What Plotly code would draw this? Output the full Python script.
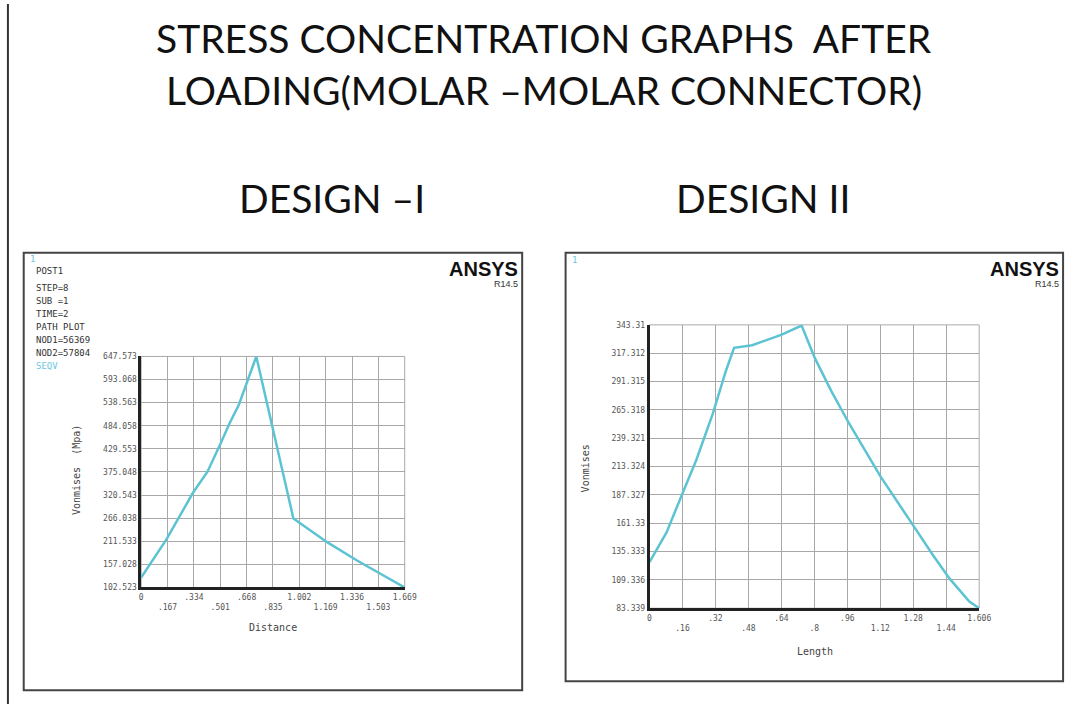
import plotly.graph_objects as go

W, H = 1081, 709

# ---------------- data ----------------
d1_x = [0.0, 0.16, 0.327, 0.42, 0.5, 0.56, 0.62, 0.729, 0.964, 1.18, 1.367, 1.669]
d1_y = [125.8, 216.0, 325.4, 375.8, 440.0, 490.0, 535.0, 647.5, 265.5, 208.9, 166.2, 102.523]
d1_xticks = [0.0, 0.1669, 0.3338, 0.5007, 0.6676, 0.8345, 1.0014, 1.1683, 1.3352, 1.5021, 1.669]
d1_xlabels = ["0", ".167", ".334", ".501", ".668", ".835", "1.002", "1.169", "1.336", "1.503", "1.669"]
d1_yticks = [102.523, 157.028, 211.533, 266.038, 320.543, 375.048, 429.553, 484.058, 538.563, 593.068, 647.573]
d1_ylabels = ["102.523", "157.028", "211.533", "266.038", "320.543", "375.048", "429.553", "484.058", "538.563", "593.068", "647.573"]

d2_x = [0.0, 0.083, 0.155, 0.228, 0.308, 0.372, 0.412, 0.5, 0.644, 0.741, 0.805, 0.885, 0.973, 1.125, 1.286, 1.382, 1.462, 1.558, 1.606]
d2_y = [125.7, 152.9, 186.1, 219.4, 261.7, 301.0, 322.2, 324.6, 334.3, 342.7, 313.0, 282.8, 252.6, 204.3, 158.9, 131.7, 110.5, 89.4, 83.339]
d2_xticks = [0.0, 0.1606, 0.3212, 0.4818, 0.6424, 0.803, 0.9636, 1.1242, 1.2848, 1.4454, 1.606]
d2_xlabels = ["0", ".16", ".32", ".48", ".64", ".8", ".96", "1.12", "1.28", "1.44", "1.606"]
d2_yticks = [83.339, 109.336, 135.333, 161.33, 187.327, 213.324, 239.321, 265.318, 291.315, 317.312, 343.31]
d2_ylabels = ["83.339", "109.336", "135.333", "161.33", "187.327", "213.324", "239.321", "265.318", "291.315", "317.312", "343.31"]

info_lines = ["POST1", "", "STEP=8", "SUB =1", "TIME=2", "PATH PLOT", "NOD1=56369", "NOD2=57804"]

LINE = "#5cc3d3"
CYAN = "#6cc6e0"
TICKFONT = dict(family="DejaVu Sans Mono", size=8, color="#555555")


def px(x):
    return x / W


def py(y):
    return 1 - y / H


def two_row(labels):
    return [lab if i % 2 == 0 else "<br>" + lab for i, lab in enumerate(labels)]


fig = go.Figure()
fig.add_trace(go.Scatter(x=d1_x, y=d1_y, mode="lines", line=dict(color=LINE, width=2.5),
                         xaxis="x", yaxis="y", showlegend=False, hoverinfo="skip"))
fig.add_trace(go.Scatter(x=d2_x, y=d2_y, mode="lines", line=dict(color=LINE, width=2.5),
                         xaxis="x2", yaxis="y2", showlegend=False, hoverinfo="skip"))

axis_common = dict(showgrid=True, gridcolor="#a8a8a8", gridwidth=1, zeroline=False,
                   showline=True, linecolor="#222222", linewidth=2.5, ticks="",
                   tickfont=TICKFONT, fixedrange=True)

fig.update_layout(
    width=W, height=H, margin=dict(l=0, r=0, t=0, b=0),
    paper_bgcolor="white", plot_bgcolor="white",
    xaxis=dict(domain=[px(141), px(408)], range=[0, 1.669], anchor="y",
               tickmode="array", tickvals=d1_xticks, ticktext=two_row(d1_xlabels), **axis_common),
    yaxis=dict(domain=[py(591), py(357)], range=[102.523, 647.573], anchor="x",
               tickmode="array", tickvals=d1_yticks, ticktext=d1_ylabels, **axis_common),
    xaxis2=dict(domain=[px(656), px(990)], range=[0, 1.606], anchor="y2",
                tickmode="array", tickvals=d2_xticks, ticktext=two_row(d2_xlabels), **axis_common),
    yaxis2=dict(domain=[py(612), py(325)], range=[83.339, 343.31], anchor="x2",
                tickmode="array", tickvals=d2_yticks, ticktext=d2_ylabels, **axis_common),
)

shapes = []
# outer slide border (left)
shapes.append(dict(type="line", xref="paper", yref="paper", x0=px(6), x1=px(6), y0=0, y1=1,
                   line=dict(color="#333333", width=2)))
# panel frames
shapes.append(dict(type="rect", xref="paper", yref="paper", x0=px(22), x1=px(527), y0=py(695), y1=py(252),
                   line=dict(color="#444444", width=2)))
shapes.append(dict(type="rect", xref="paper", yref="paper", x0=px(571), x1=px(1075), y0=py(686), y1=py(252),
                   line=dict(color="#444444", width=2)))
# gray plot box outlines (top/right)
for xd, yd in (("x domain", "y domain"), ("x2 domain", "y2 domain")):
    shapes.append(dict(type="rect", xref=xd, yref=yd, x0=0, x1=1, y0=0, y1=1,
                       line=dict(color="#a8a8a8", width=1), layer="below"))
fig.update_layout(shapes=shapes)

ann = []
TITLE_FONT = dict(family="Lato", size=39, color="#111111")
ann.append(dict(text="STRESS CONCENTRATION GRAPHS  AFTER", x=px(549), y=py(34), xref="paper", yref="paper",
                showarrow=False, font=TITLE_FONT, xanchor="center", yanchor="middle"))
ann.append(dict(text="LOADING(MOLAR \u2013MOLAR CONNECTOR)", x=px(549), y=py(87), xref="paper", yref="paper",
                showarrow=False, font=TITLE_FONT, xanchor="center", yanchor="middle"))
ann.append(dict(text="DESIGN \u2013I", x=px(334), y=py(197), xref="paper", yref="paper",
                showarrow=False, font=TITLE_FONT, xanchor="center", yanchor="middle"))
ann.append(dict(text="DESIGN II", x=px(771), y=py(197), xref="paper", yref="paper",
                showarrow=False, font=TITLE_FONT, xanchor="center", yanchor="middle"))

# ANSYS labels
for xr in (525, 1073):
    ann.append(dict(text="<b>ANSYS</b>", x=px(xr), y=py(268), xref="paper", yref="paper", showarrow=False,
                    font=dict(family="Liberation Sans Narrow, Liberation Sans", size=20, color="#111111"),
                    xanchor="right", yanchor="middle"))
    ann.append(dict(text="R14.5", x=px(xr), y=py(284), xref="paper", yref="paper", showarrow=False,
                    font=dict(family="Liberation Sans Narrow, Liberation Sans", size=9, color="#333333"),
                    xanchor="right", yanchor="middle"))

# "1" window numbers
ann.append(dict(text="1", x=px(26), y=py(258), xref="paper", yref="paper", showarrow=False,
                font=dict(family="DejaVu Sans Mono", size=9, color=CYAN), xanchor="left", yanchor="middle"))
ann.append(dict(text="1", x=px(575), y=py(259), xref="paper", yref="paper", showarrow=False,
                font=dict(family="DejaVu Sans Mono", size=9, color=CYAN), xanchor="left", yanchor="middle"))

# info block
ys = [270, 279, 288, 301, 314, 327, 340, 353]
for txt, yy in zip(info_lines, ys):
    if txt:
        ann.append(dict(text=txt, x=px(32), y=py(yy), xref="paper", yref="paper", showarrow=False,
                        font=dict(family="DejaVu Sans Mono", size=9, color="#333333"),
                        xanchor="left", yanchor="middle"))
ann.append(dict(text="SEQV", x=px(32), y=py(367), xref="paper", yref="paper", showarrow=False,
                font=dict(family="DejaVu Sans Mono", size=9, color=CYAN), xanchor="left", yanchor="middle"))

# axis titles
AXT = dict(family="DejaVu Sans Mono", size=10, color="#444444")
ann.append(dict(text="Vonmises  (Mpa)", x=px(75), y=py(472), xref="paper", yref="paper", showarrow=False,
                font=AXT, textangle=-90, xanchor="center", yanchor="middle"))
ann.append(dict(text="Distance", x=px(275), y=py(632), xref="paper", yref="paper", showarrow=False,
                font=AXT, xanchor="center", yanchor="middle"))
ann.append(dict(text="Vonmises", x=px(591), y=py(470), xref="paper", yref="paper", showarrow=False,
                font=AXT, textangle=-90, xanchor="center", yanchor="middle"))
ann.append(dict(text="Length", x=px(824), y=py(656), xref="paper", yref="paper", showarrow=False,
                font=AXT, xanchor="center", yanchor="middle"))

fig.update_layout(annotations=ann)
css_js = ("document.documentElement.style.margin='0px';document.documentElement.style.padding='0px';"
          "document.documentElement.style.overflow='hidden';"
          "document.body.style.margin='0px';document.body.style.padding='0px';"
          "document.body.style.overflow='hidden';")
fig.write_html("out.html", post_script=css_js, config={"displayModeBar": False})
